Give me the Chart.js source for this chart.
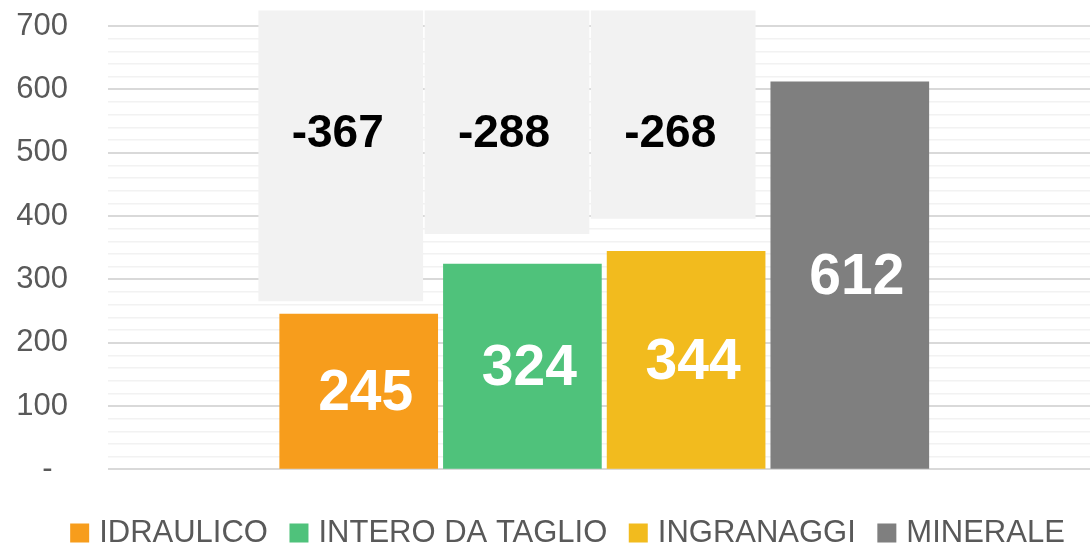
<!DOCTYPE html>
<html>
<head>
<meta charset="utf-8">
<script src="https://cdn.jsdelivr.net/npm/chart.js@4/dist/chart.umd.min.js"></script>
<style>
  html, body { margin: 0; padding: 0; background: #ffffff; }
  #wrap { width: 1090px; height: 548px; position: relative; }
</style>
</head>
<body>
<div id="wrap"><canvas id="c" width="1090" height="548"></canvas></div>
<script>
// ---- data ----
const categories = ['IDRAULICO', 'INTERO DA TAGLIO', 'INGRANAGGI', 'MINERALE'];
const values = [245, 324, 344, 612];
const colors = ['#F79D1C', '#4FC27B', '#F2BB1E', '#7F7F7F'];
const gapLabels = ['-367', '-288', '-268'];
const gapLow = [266, 372, 396];
const gapHigh = [724, 724, 724];
const yTickValues = [0, 100, 200, 300, 400, 500, 600, 700];
const yTickLabels = ['-\u2002', '100', '200', '300', '400', '500', '600', '700'];

const FONT = '"Liberation Sans", Arial, sans-serif';

const valueLabels = {
  id: 'valueLabels',
  afterDatasetsDraw(chart) {
    const ctx = chart.ctx;
    ctx.save();
    ctx.textAlign = 'center';
    ctx.textBaseline = 'middle';
    chart.data.datasets.forEach((ds, di) => {
      const meta = chart.getDatasetMeta(di);
      meta.data.forEach((el, i) => {
        if (ds.kind === 'value') {
          ctx.font = 'bold 57px ' + FONT;
          ctx.fillStyle = '#ffffff';
          ctx.fillText(String(values[ds.catIndex]), el.x + 7, (el.y + el.base) / 2 + 3);
        } else {
          ctx.font = 'bold 46px ' + FONT;
          ctx.fillStyle = '#000000';
          ctx.fillText(gapLabels[i], el.x - 3, el.y + 124);
        }
      });
    });
    ctx.restore();
  }
};

const datasets = categories.map((name, i) => ({
  label: name,
  data: [{ x: i, y: values[i] }],
  backgroundColor: colors[i],
  borderWidth: 0,
  barThickness: 158,
  grouped: false,
  xAxisID: 'x',
  kind: 'value',
  catIndex: i
}));
datasets.push({
  label: 'gap',
  data: gapLabels.map((t, i) => ({ x: i, y: [gapLow[i], gapHigh[i]] })),
  backgroundColor: '#F2F2F2',
  borderWidth: 0,
  barThickness: 164,
  grouped: false,
  xAxisID: 'x2',
  clip: false,
  kind: 'gap'
});

new Chart(document.getElementById('c'), {
  type: 'bar',
  data: { datasets },
  plugins: [valueLabels],
  options: {
    responsive: false,
    devicePixelRatio: 1,
    animation: false,
    layout: { padding: { top: 26, left: 0, right: -50.5, bottom: 0 } },
    scales: {
      x: { type: 'linear', display: false, offset: false, grid: { offset: false }, min: -1.5315, max: 4.4673 },
      x2: { type: 'linear', display: false, offset: false, grid: { offset: false }, min: -1.40, max: 4.507 },
      y: {
        min: 0, max: 700,
        afterFit(s) { s.width = 108; },
        border: { display: false },
        grid: {
          drawTicks: true,
          tickLength: 40,
          tickColor: 'rgba(0,0,0,0)',
          color: c => (c.tick && c.tick.value % 100 === 0) ? '#D9D9D9' : '#F2F2F2',
          lineWidth: c => (c.tick && c.tick.value % 100 === 0) ? 2 : 1.6
        },
        ticks: {
          stepSize: 20,
          autoSkip: false,
          padding: 0,
          color: '#595959',
          font: { family: FONT, size: 31 },
          callback: v => {
            const k = yTickValues.indexOf(v);
            return k >= 0 ? yTickLabels[k] : '';
          }
        }
      }
    },
    plugins: {
      tooltip: { enabled: false },
      legend: {
        position: 'bottom',
        maxHeight: 78.7,
        title: { display: true, text: '', font: { size: 21.2, lineHeight: 1 }, padding: 0 },
        labels: {
          usePointStyle: true,
          pointStyle: 'rect',
          boxWidth: 8,
          boxHeight: 19,
          padding: 27,
          color: '#595959',
          font: { family: FONT, size: 31 },
          filter: item => item.datasetIndex < categories.length
        }
      }
    }
  }
});
</script>
</body>
</html>
